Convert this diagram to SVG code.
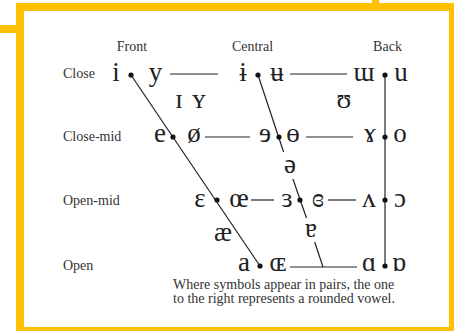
<svg xmlns="http://www.w3.org/2000/svg" width="454" height="331" viewBox="0 0 454 331">
<style>
.frame{fill:none;stroke:#FFC000;stroke-width:8}
.lbl{font-family:"Liberation Serif","Times New Roman",serif;font-size:14px;fill:#333}
.sym{font-family:"Liberation Serif","DejaVu Serif",serif;font-size:27px;fill:#222;text-anchor:middle}
.ln{stroke:#222;stroke-width:1.2;fill:none}
.dot{fill:#111}
</style>
<rect width="454" height="331" fill="#fff"/>
<g id="frame">
<rect class="frame" x="20" y="7" width="433" height="324"/>
<rect x="0" y="25" width="17" height="8" fill="#FFC000"/>
<rect x="372" y="0" width="7" height="4" fill="#FFC000"/>
</g>
<g id="connectors">
<line class="ln" x1="170" y1="74" x2="218" y2="74"/>
<line class="ln" x1="290" y1="74" x2="347" y2="74"/>
<line class="ln" x1="205" y1="137" x2="250" y2="137"/>
<line class="ln" x1="306" y1="137" x2="353" y2="137"/>
<line class="ln" x1="251" y1="200" x2="274" y2="200"/>
<line class="ln" x1="328" y1="200" x2="356" y2="200"/>
<line class="ln" x1="290" y1="267" x2="357" y2="267"/>
<line class="ln" x1="131" y1="75" x2="260" y2="266"/>
<line class="ln" x1="258" y1="75" x2="283.6" y2="152"/>
<line class="ln" x1="292.9" y1="179" x2="306.5" y2="218"/>
<line class="ln" x1="314.7" y1="242" x2="323" y2="267"/>
<line class="ln" x1="385" y1="75" x2="385" y2="266"/>
<circle class="dot" cx="131" cy="75" r="2.6"/>
<circle class="dot" cx="258" cy="75" r="2.6"/>
<circle class="dot" cx="385" cy="75" r="2.6"/>
<circle class="dot" cx="173" cy="137" r="2.6"/>
<circle class="dot" cx="279" cy="137" r="2.6"/>
<circle class="dot" cx="385" cy="137" r="2.6"/>
<circle class="dot" cx="217" cy="200" r="2.6"/>
<circle class="dot" cx="300" cy="200" r="2.6"/>
<circle class="dot" cx="385" cy="200" r="2.6"/>
<circle class="dot" cx="260" cy="266" r="2.6"/>
<circle class="dot" cx="385" cy="266" r="2.6"/>
</g>
<g id="headers">
<text class="lbl" x="132" y="51" text-anchor="middle">Front</text>
<text class="lbl" x="252.5" y="51" text-anchor="middle">Central</text>
<text class="lbl" x="387.5" y="51" text-anchor="middle">Back</text>
<text class="lbl" x="63" y="78">Close</text>
<text class="lbl" x="63" y="141">Close-mid</text>
<text class="lbl" x="63" y="205">Open-mid</text>
<text class="lbl" x="63" y="270">Open</text>
</g>
<g id="close-front"><text class="sym" x="116" y="81">i</text><text class="sym" x="155.5" y="81">y</text></g>
<g id="close-central"><text class="sym" x="243" y="81">ɨ</text><text class="sym" x="277" y="81">ʉ</text></g>
<g id="close-back"><text class="sym" x="364" y="81">ɯ</text><text class="sym" x="401" y="81">u</text></g>
<g id="near-close-front"><text class="sym" x="179" y="108">ɪ</text><text class="sym" x="199" y="108">ʏ</text></g>
<g id="near-close-back"><text class="sym" x="344" y="108">ʊ</text></g>
<g id="close-mid-front"><text class="sym" x="160" y="142">e</text><text class="sym" x="194" y="142">ø</text></g>
<g id="close-mid-central"><text class="sym" x="265" y="142">ɘ</text><text class="sym" x="293" y="142">ɵ</text></g>
<g id="close-mid-back"><text class="sym" x="370" y="142">ɤ</text><text class="sym" x="400" y="142">o</text></g>
<g id="mid-central"><text class="sym" x="290" y="173">ə</text></g>
<g id="open-mid-front"><text class="sym" x="200" y="207">ɛ</text><text class="sym" x="239" y="207">œ</text></g>
<g id="open-mid-central"><text class="sym" x="287" y="207">ɜ</text><text class="sym" x="318" y="207">ɞ</text></g>
<g id="open-mid-back"><text class="sym" x="369" y="207">ʌ</text><text class="sym" x="400" y="207">ɔ</text></g>
<g id="near-open-front"><text class="sym" x="223" y="241">æ</text></g>
<g id="near-open-central"><text class="sym" x="311" y="237">ɐ</text></g>
<g id="open-front"><text class="sym" x="244" y="271">a</text><text class="sym" x="278" y="271">ɶ</text></g>
<g id="open-back"><text class="sym" x="369" y="271">ɑ</text><text class="sym" x="399" y="271">ɒ</text></g>
<g id="note">
<text class="lbl" x="173" y="289">Where symbols appear in pairs, the one</text>
<text class="lbl" x="173" y="303">to the right represents a rounded vowel.</text>
</g>
</svg>
